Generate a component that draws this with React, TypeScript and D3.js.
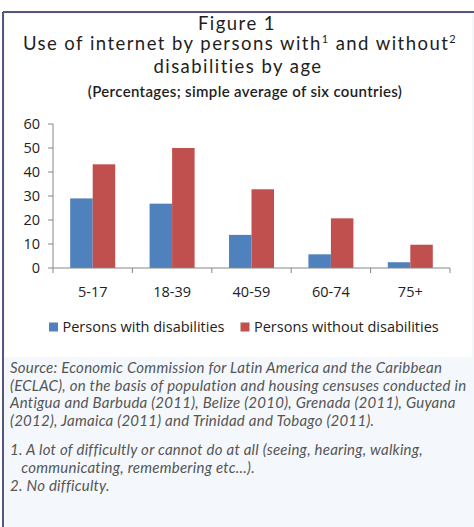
import React from "react";
import * as d3 from "d3";

const categories = ["5-17", "18-39", "40-59", "60-74", "75+"];
const seriesKeys = ["with", "without"];
const seriesNames = ["Persons with disabilities", "Persons without disabilities"];
const withDisab = [29, 26.8, 13.8, 5.7, 2.4];
const withoutDisab = [43.2, 50, 32.8, 20.7, 9.7];
const yTicks = [0, 10, 20, 30, 40, 50, 60];
const colors = ["#4f81bd", "#c0504d"];

const sourceLines = [
  "Source: Economic Commission for Latin America and the Caribbean",
  "(ECLAC), on the basis of population and housing censuses conducted in",
  "Antigua and Barbuda (2011), Belize (2010), Grenada (2011), Guyana",
  "(2012), Jamaica (2011) and Trinidad and Tobago (2011).",
];
const noteLines = [
  "1. A lot of difficultly or cannot do at all (seeing, hearing, walking,",
  "   communicating, remembering etc...).",
  "2. No difficulty.",
];

export default function App() {
  const W = 474, H = 527;
  const left = 53, right = 450, top = 124, bottom = 268;
  const x0 = d3.scaleBand<string>().domain(categories).range([left, right]).paddingInner(0).paddingOuter(0);
  const x1 = d3.scaleBand<string>().domain(seriesKeys).range([0, x0.bandwidth()]).paddingInner(0).paddingOuter(0.764);
  const y = d3.scaleLinear().domain([0, 60]).range([bottom, top]);
  const data = [withDisab, withoutDisab];
  const calibri = "'Open Sans', 'Noto Sans', sans-serif";
  const gill = "Lato, 'Open Sans', sans-serif";
  const boundaries = [...categories.map((c) => x0(c) as number), right];

  return (
    <svg width={W} height={H} style={{ position: "absolute", left: 0, top: 0 }}>
      <rect x={0} y={0} width={W} height={H} fill="#ffffff" />
      <rect x={3} y={12} width={W - 3} height={H - 12} fill="#f4f8fc" />
      <rect x={5} y={14} width={467} height={343} fill="#ffffff" />
      <line x1={3} y1={12} x2={W} y2={12} stroke="#55557f" strokeWidth={2} />
      <line x1={3} y1={12} x2={3} y2={H} stroke="#55557f" strokeWidth={2} />

      <g fontFamily={gill} fill="#1e1e1e" textAnchor="middle" letterSpacing={1.45}>
        <text x={237} y={30} fontSize={18.5}>Figure 1</text>
        <text x={240} y={50} fontSize={18.5}>
          Use of internet by persons with
          <tspan fontSize={11} dy={-7}>1</tspan>
          <tspan dy={7}> and without</tspan>
          <tspan fontSize={11} dy={-7}>2</tspan>
        </text>
        <text x={238} y={72.5} fontSize={18.5}>disabilities by age</text>
        <text x={245} y={97} fontSize={15} fontWeight={600} letterSpacing={0.35}>(Percentages; simple average of six countries)</text>
      </g>

      {seriesKeys.map((k, si) => (
        <g key={k} fill={colors[si]}>
          {categories.map((c, ci) => (
            <rect
              key={c}
              x={(x0(c) as number) + (x1(k) as number)}
              y={y(data[si][ci])}
              width={x1.bandwidth()}
              height={bottom - y(data[si][ci])}
            />
          ))}
        </g>
      ))}

      <g stroke="#868686" strokeWidth={1}>
        <line x1={left} y1={top} x2={left} y2={bottom} />
        <line x1={left} y1={bottom} x2={right} y2={bottom} />
        {yTicks.map((t) => (
          <line key={t} x1={left - 5} y1={y(t)} x2={left} y2={y(t)} />
        ))}
        {boundaries.map((b, i) => (
          <line key={i} x1={b} y1={bottom} x2={b} y2={bottom + 5} />
        ))}
      </g>
      <g fontFamily={calibri} fontSize={14.5} fill="#222">
        {yTicks.map((t) => (
          <text key={t} x={40} y={y(t)} dy="0.35em" textAnchor="end">{t}</text>
        ))}
        {categories.map((c) => (
          <text key={c} x={(x0(c) as number) + x0.bandwidth() / 2} y={297} textAnchor="middle">{c}</text>
        ))}
      </g>

      <g fontFamily={calibri} fontSize={14.5} fill="#222">
        <rect x={49} y={322.5} width={9} height={9} fill={colors[0]} />
        <text x={62.5} y={332}>{seriesNames[0]}</text>
        <rect x={240.5} y={322.5} width={9} height={9} fill={colors[1]} />
        <text x={254} y={332}>{seriesNames[1]}</text>
      </g>

      <g fontFamily={gill} fontStyle="italic" fontSize={15} fill="#555" letterSpacing={0.25} style={{ whiteSpace: "pre" }}>
        {sourceLines.map((l, i) => (
          <text key={i} x={10} y={373 + i * 17.5}>{l}</text>
        ))}
        {noteLines.map((l, i) => (
          <text key={i} x={10} y={455 + i * 18} xmlSpace="preserve">{l}</text>
        ))}
      </g>
    </svg>
  );
}
